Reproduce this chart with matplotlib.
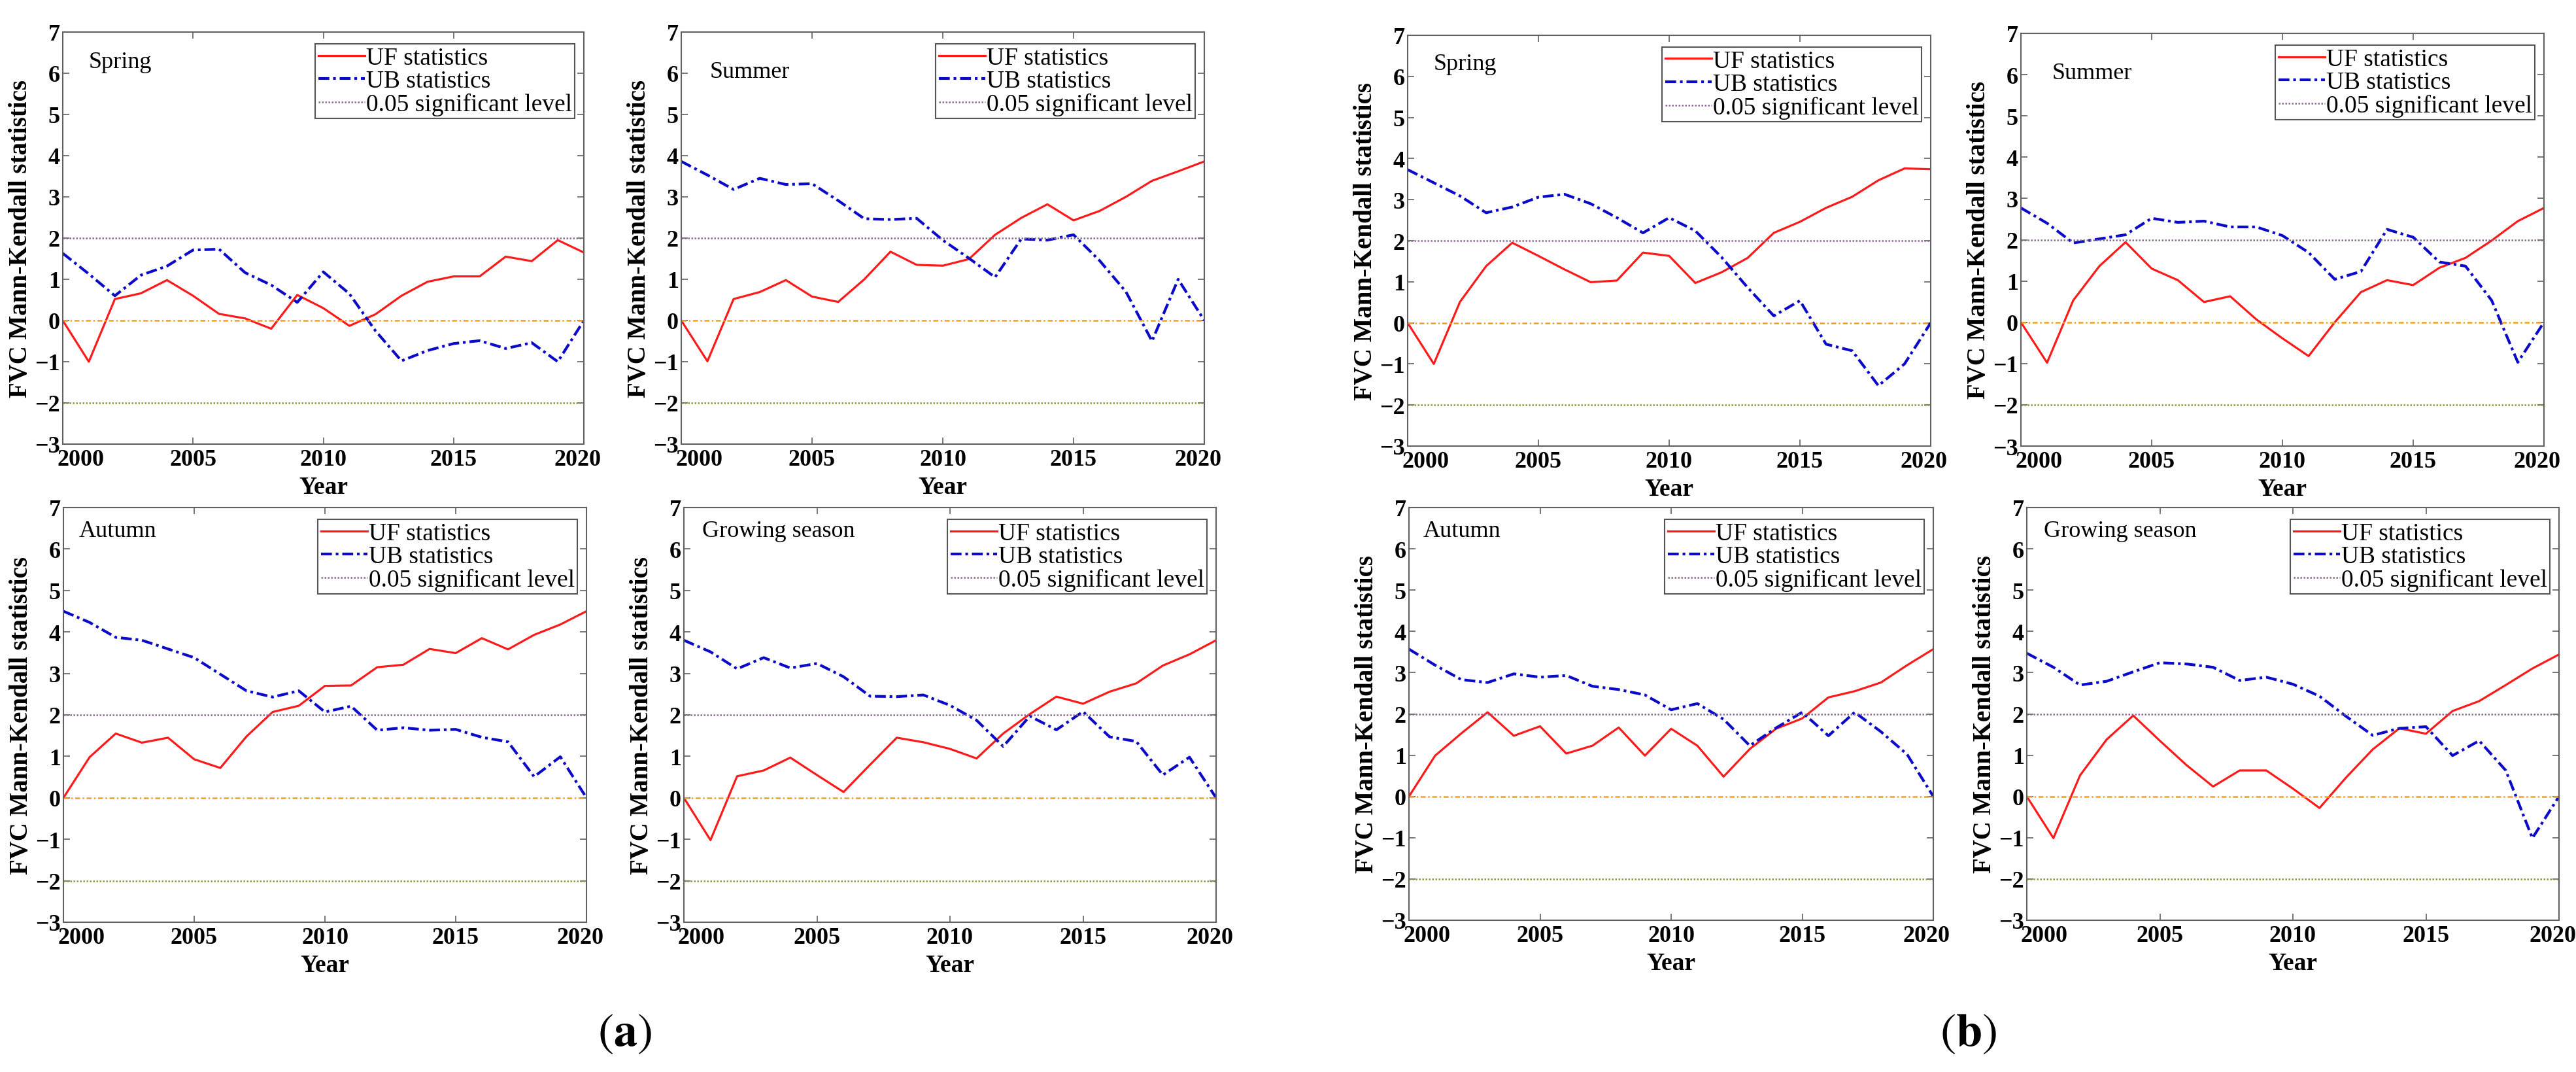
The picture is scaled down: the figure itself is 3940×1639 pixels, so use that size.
import numpy as np
import matplotlib
matplotlib.use("Agg")
import matplotlib.pyplot as plt
import matplotlib.transforms as mtransforms

# years of the Mann-Kendall test
years = list(range(2000, 2021))

# (a) UF / UB statistics
uf_a_spring = [0, -1.0, 0.52, 0.66, 0.98, 0.6, 0.16, 0.05, -0.2, 0.62, 0.3, -0.13, 0.15, 0.6,
               0.94, 1.07, 1.07, 1.55, 1.44, 1.95, 1.65]
ub_a_spring = [1.63, 1.13, 0.6, 1.1, 1.32, 1.71, 1.73, 1.16, 0.86, 0.44, 1.18, 0.65, -0.25, -0.98,
               -0.73, -0.56, -0.49, -0.68, -0.54, -1.0, 0]
uf_a_summer = [0, -0.99, 0.52, 0.69, 0.98, 0.58, 0.45, 1.0, 1.67, 1.35, 1.33, 1.49, 2.08, 2.49,
               2.82, 2.43, 2.66, 3.0, 3.39, 3.62, 3.86]
ub_a_summer = [3.86, 3.53, 3.18, 3.45, 3.3, 3.32, 2.91, 2.47, 2.45, 2.48, 1.95, 1.51, 1.05, 1.98,
               1.95, 2.08, 1.45, 0.7, -0.5, 1.0, 0]
uf_a_autumn = [0, 0.98, 1.55, 1.33, 1.45, 0.93, 0.72, 1.48, 2.07, 2.22, 2.7, 2.71, 3.15, 3.21,
               3.59, 3.49, 3.85, 3.58, 3.93, 4.18, 4.5]
ub_a_autumn = [4.5, 4.23, 3.87, 3.8, 3.59, 3.38, 2.98, 2.58, 2.43, 2.58, 2.07, 2.21, 1.63, 1.69,
               1.63, 1.65, 1.46, 1.35, 0.51, 0.99, 0]
uf_a_growing = [0, -1.02, 0.52, 0.66, 0.97, 0.55, 0.14, 0.8, 1.45, 1.34, 1.18, 0.95, 1.55, 2.02,
                2.44, 2.27, 2.56, 2.76, 3.19, 3.46, 3.8]
ub_a_growing = [3.8, 3.52, 3.11, 3.38, 3.13, 3.24, 2.92, 2.45, 2.44, 2.48, 2.23, 1.87, 1.24, 1.97,
                1.64, 2.08, 1.47, 1.36, 0.55, 0.98, 0]

# (b)
uf_b_spring = [0, -1.0, 0.51, 1.38, 1.95, 1.63, 1.3, 0.99, 1.03, 1.71, 1.63, 0.97, 1.23, 1.58,
               2.19, 2.46, 2.8, 3.07, 3.47, 3.76, 3.74]
ub_b_spring = [3.73, 3.41, 3.09, 2.68, 2.82, 3.06, 3.13, 2.9, 2.56, 2.19, 2.56, 2.24, 1.6, 0.86,
               0.17, 0.54, -0.52, -0.68, -1.53, -1.0, 0]
uf_b_summer = [0, -0.98, 0.53, 1.36, 1.94, 1.3, 1.02, 0.49, 0.63, 0.07, -0.39, -0.82, 0.0, 0.73,
               1.02, 0.9, 1.32, 1.56, 1.98, 2.45, 2.77]
ub_b_summer = [2.77, 2.4, 1.92, 2.02, 2.12, 2.52, 2.42, 2.45, 2.31, 2.31, 2.1, 1.69, 1.04, 1.23,
               2.25, 2.06, 1.46, 1.36, 0.53, -0.97, 0]
uf_b_autumn = [0, 0.99, 1.53, 2.04, 1.47, 1.7, 1.04, 1.23, 1.67, 0.99, 1.64, 1.23, 0.48, 1.15,
               1.64, 1.89, 2.4, 2.55, 2.76, 3.18, 3.57]
ub_b_autumn = [3.57, 3.18, 2.83, 2.76, 2.97, 2.89, 2.93, 2.67, 2.59, 2.46, 2.1, 2.25, 1.87, 1.23,
               1.66, 2.04, 1.47, 2.04, 1.57, 1.02, 0]
uf_b_growing = [0, -1.01, 0.51, 1.38, 1.96, 1.35, 0.76, 0.24, 0.63, 0.63, 0.19, -0.28, 0.46, 1.14,
                1.65, 1.52, 2.07, 2.31, 2.7, 3.1, 3.44]
ub_b_growing = [3.47, 3.13, 2.7, 2.79, 3.02, 3.24, 3.21, 3.13, 2.81, 2.89, 2.72, 2.43, 1.94, 1.48,
                1.65, 1.69, 0.99, 1.35, 0.63, -1.01, 0]

seasons = ["Spring", "Summer", "Autumn", "Growing season"]

W, H = 3941, 1640
fig = plt.figure(figsize=(W / 100, H / 100), dpi=100)
plt.rcParams['font.family'] = ['Liberation Serif', 'DejaVu Serif']
plt.rcParams['mathtext.fontset'] = 'stix'

def px_box(l, r, t, b):
    #convert a pixel box into figure fractions
    return [l / W, 1 - b / H, (r - l) / W, (b - t) / H]

def draw_panel(box, uf, ub, name, name_xy):
    ax = fig.add_axes(px_box(*box))
    ax.plot(years, uf, color='#ff1a1a', lw=2.3, label='UF statistics')
    ax.plot(years, ub, color='#0a0ac8', lw=3, linestyle=(0, (4, 1.4, 1, 1.4)),
            label='UB statistics')
    ax.axhline(2, color='#8a6a90', lw=1.8, linestyle=(0, (1, 1)),
               label='0.05 significant level')
    ax.axhline(0, color='#f0a020', lw=1.8, linestyle=(0, (3, 1.5, 1, 1.5)))
    ax.axhline(-2, color='#8c9640', lw=1.8, linestyle=(0, (1, 1)))
    ax.set_xlim(2000, 2020)
    ax.set_ylim(-3, 7)
    ax.set_xticks([2000, 2005, 2010, 2015, 2020])
    ax.set_yticks(range(-3, 8))
    ax.tick_params(direction='in', length=7, width=1.2, color='#606060',
                   top=True, right=True, labelsize=26)
    ax.tick_params(axis='x', pad=5)
    ax.tick_params(axis='y', pad=3)
    for lab in ax.get_xticklabels() + ax.get_yticklabels():
        lab.set_fontweight('bold')
    for sp in ax.spines.values():
        sp.set_color('#606060')
        sp.set_linewidth(1.5)
    #first and last year labels sit inside like in the original
    ticks = ax.xaxis.get_major_ticks()
    ticks[0].label1.set_transform(ticks[0].label1.get_transform() +
                                  mtransforms.ScaledTranslation(0.27, 0, fig.dpi_scale_trans))
    ticks[-1].label1.set_transform(ticks[-1].label1.get_transform() +
                                   mtransforms.ScaledTranslation(-0.1, 0, fig.dpi_scale_trans))
    ax.set_xlabel('Year', fontsize=27, fontweight='bold', labelpad=6)
    ax.set_ylabel('FVC Mann-Kendall statistics', fontsize=28, fontweight='bold', labelpad=2)
    ax.text(name_xy[0], name_xy[1], name, fontsize=26)
    leg = ax.legend(loc='upper right', bbox_to_anchor=(0.983, 0.972), borderaxespad=0,
                    fontsize=27, handlelength=1.9, handletextpad=0.05, labelspacing=0.02,
                    borderpad=0.12, fancybox=False, framealpha=1, edgecolor='#555555')
    leg.get_frame().set_linewidth(1.5)
    return ax

# group (a)
draw_panel((96, 893, 50, 680), uf_a_spring, ub_a_spring, seasons[0], (2001.0, 6.15))
draw_panel((1042, 1842, 50, 680), uf_a_summer, ub_a_summer, seasons[1], (2001.1, 5.9))
draw_panel((97, 897, 777, 1411), uf_a_autumn, ub_a_autumn, seasons[2], (2000.6, 6.3))
draw_panel((1046, 1860, 777, 1411), uf_a_growing, ub_a_growing, seasons[3], (2000.7, 6.3))

# group (b)
draw_panel((2153, 2953, 55, 683), uf_b_spring, ub_b_spring, seasons[0], (2001.0, 6.17))
draw_panel((3091, 3891, 52, 683), uf_b_summer, ub_b_summer, seasons[1], (2001.2, 5.9))
draw_panel((2155, 2957, 777, 1408), uf_b_autumn, ub_b_autumn, seasons[2], (2000.55, 6.3))
draw_panel((3100, 3914, 777, 1408), uf_b_growing, ub_b_growing, seasons[3], (2000.65, 6.3))

fig.text(955 / W, 1 - 1582 / H, r'$(\mathbf{a})$', fontsize=52, ha='center', va='center')
fig.text(3010 / W, 1 - 1582 / H, r'$(\mathbf{b})$', fontsize=52, ha='center', va='center')

plt.savefig('out.png', dpi=100, facecolor='white')
plt.close()
